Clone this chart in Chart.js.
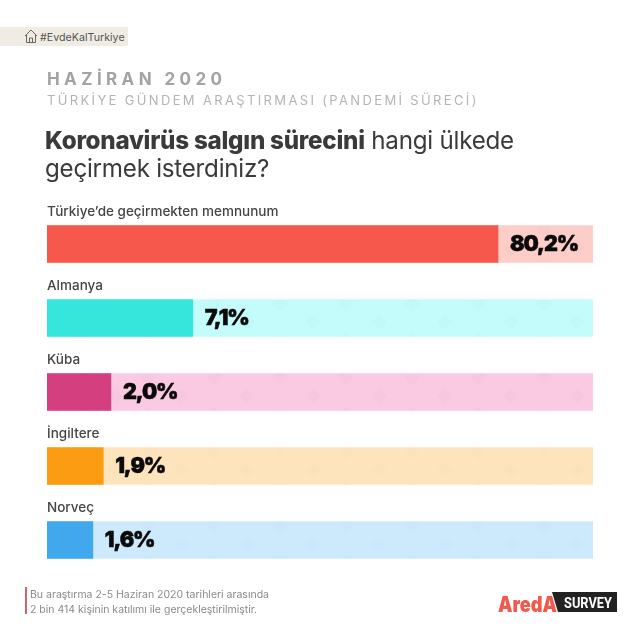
<!DOCTYPE html>
<html lang="tr">
<head>
<meta charset="utf-8">
<title>Koronavirüs salgın sürecini hangi ülkede geçirmek isterdiniz?</title>
<script src="https://cdn.jsdelivr.net/npm/chart.js@4"></script>
<style>
  html, body { margin: 0; padding: 0; background: #fff; }
  #page { position: relative; width: 640px; height: 640px; overflow: hidden; font-family: Inter, sans-serif; }
  #c { position: absolute; left: 0; top: 0; }
  .t { position: absolute; white-space: nowrap; }
  #tag { left: 0; top: 27px; width: 128px; height: 19px; background: #f0ece4; }
  #tagText { left: 40px; top: 31px; font-size: 10.7px; line-height: 14px; color: #555; }
  #month { left: 47px; top: 69px; font-size: 17px; line-height: 20px; font-weight: 700; letter-spacing: 4.4px; color: #a3a3a3; }
  #sub { left: 47px; top: 92px; font-size: 13px; line-height: 16px; letter-spacing: 2.35px; color: #b4b4b4; }
  #title1 { left: 45px; top: 127px; font-size: 24.2px; line-height: 28px; letter-spacing: -0.25px; color: #3a3a3a; }
  #title1 b { font-weight: 800; }
  #title2 { left: 45px; top: 155px; font-size: 24.2px; line-height: 28px; letter-spacing: -0.25px; color: #3a3a3a; }
  #rule { left: 25px; top: 587px; width: 2px; height: 27px; background: #c96a6a; }
  #note1 { left: 30px; top: 588px; font-size: 10.5px; line-height: 14px; color: #8a8a8a; }
  #note2 { left: 30px; top: 603px; font-size: 10.5px; line-height: 14px; color: #8a8a8a; }
</style>
</head>
<body>
<div id="page">
  <canvas id="c" width="640" height="640"></canvas>
  <div class="t" id="tag"></div>
  <svg class="t" style="left:24px;top:28px" width="14" height="16" viewBox="0 0 14 16" fill="none" stroke="#666" stroke-width="1">
    <path d="M1 8 L7 2 L13 8 M2.5 7 V14.5 H11.5 V7 M5.5 14.5 V10 H8.5 V14.5"/>
  </svg>
  <div class="t" id="tagText">#EvdeKalTurkiye</div>
  <div class="t" id="month">HAZİRAN 2020</div>
  <div class="t" id="sub">TÜRKİYE GÜNDEM ARAŞTIRMASI (PANDEMİ SÜRECİ)</div>
  <div class="t" id="title1"><b>Koronavirüs salgın sürecini</b> hangi ülkede</div>
  <div class="t" id="title2">geçirmek isterdiniz?</div>
  <div class="t" id="rule"></div>
  <div class="t" id="note1">Bu araştırma 2-5 Haziran 2020 tarihleri arasında</div>
  <div class="t" id="note2">2 bin 414 kişinin katılımı ile gerçekleştirilmiştir.</div>
  <svg class="t" style="left:498px;top:590px" width="120" height="24" viewBox="0 0 120 24">
    <path d="M54 2 H119 V22 H60 Z" fill="#222"/>
    <text x="66" y="17.5" textLength="48" lengthAdjust="spacingAndGlyphs" font-family="Roboto, sans-serif" font-size="15" font-weight="700" fill="#fff">SURVEY</text>
    <text x="0" y="21.5" textLength="59" lengthAdjust="spacingAndGlyphs" font-family="Inter, sans-serif" font-size="22" font-weight="900" fill="#f0594c">AredA</text>
  </svg>
</div>
<script>
const categories = ["Türkiye’de geçirmekten memnunum", "Almanya", "Küba", "İngiltere", "Norveç"];
const valueLabels = ["80,2%", "7,1%", "2,0%", "1,9%", "1,6%"];
// bar lengths as drawn in the picture, it does not draw them in proportion to the printed %
const barLengths = [82.6, 26.7, 11.7, 10.3, 8.4];
const trackLengths = [100, 100, 100, 100, 100];
const barColors = ["#f6594c", "#36e6dc", "#d43f80", "#fb9c12", "#42a8ee"];
const trackColors = ["#fdcdc8", "#c3fcfa", "#fac9e2", "#fde4bc", "#cdeafd"];

// faint diamonds on the pale tracks
function trackPattern(color) {
  const tile = document.createElement("canvas");
  tile.width = 66;
  tile.height = 37;
  const g = tile.getContext("2d");
  g.fillStyle = color;
  g.fillRect(0, 0, 66, 37);
  g.fillStyle = "rgba(0,60,60,0.012)";
  [[16, 8], [49, 26]].forEach(([cx, cy]) => {
    g.beginPath();
    g.moveTo(cx, cy - 8);
    g.lineTo(cx + 8, cy);
    g.lineTo(cx, cy + 8);
    g.lineTo(cx - 8, cy);
    g.fill();
  });
  return g.createPattern(tile, "repeat");
}

// labels over the bars + value next to the end of each bar
const barText = {
  id: "barText",
  afterDatasetsDraw(chart) {
    const { ctx } = chart;
    const bars = chart.getDatasetMeta(0).data;
    ctx.save();
    bars.forEach((bar, i) => {
      const top = bar.y - bar.height / 2;
      ctx.textBaseline = "alphabetic";
      ctx.textAlign = "left";
      ctx.letterSpacing = "0px";
      ctx.font = "500 13.5px Inter, sans-serif";
      ctx.fillStyle = "#454545";
      ctx.fillText(categories[i], chart.chartArea.left, top - 10);
      ctx.letterSpacing = "-1.1px";
      ctx.font = "900 21.5px Inter, sans-serif";
      ctx.fillStyle = "#0a0a0a";
      ctx.strokeStyle = "#0a0a0a";
      ctx.lineWidth = 0.5;
      ctx.textBaseline = "middle";
      ctx.fillText(valueLabels[i], bar.x + 12, bar.y + 1);
      ctx.strokeText(valueLabels[i], bar.x + 12, bar.y + 1);
    });
    ctx.restore();
  }
};

new Chart(document.getElementById("c"), {
  type: "bar",
  data: {
    labels: categories,
    datasets: [
      { data: barLengths, backgroundColor: barColors, order: 1 },
      { data: trackLengths, backgroundColor: trackColors.map(trackPattern), order: 2 }
    ]
  },
  options: {
    indexAxis: "y",
    responsive: false,
    animation: false,
    layout: { padding: { left: 47, right: 47, top: 207, bottom: 63 } },
    datasets: { bar: { barThickness: 37, grouped: false, borderWidth: 0 } },
    plugins: { legend: { display: false }, tooltip: { enabled: false } },
    scales: {
      x: { min: 0, max: 100, display: false },
      y: { display: false }
    }
  },
  plugins: [barText]
});
</script>
</body>
</html>
